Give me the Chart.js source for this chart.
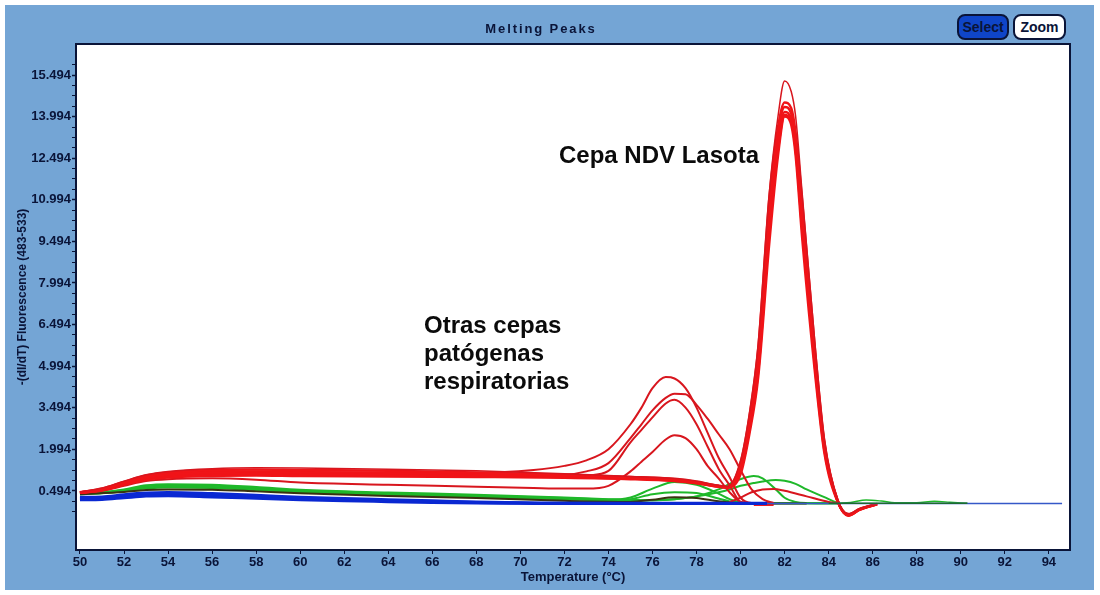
<!DOCTYPE html>
<html>
<head>
<meta charset="utf-8">
<title>Melting Peaks</title>
<script src="https://cdn.jsdelivr.net/npm/chart.js@4"></script>
<style>
html, body { margin: 0; padding: 0; background: #fff; }
#wrap { position: relative; width: 1100px; height: 595px; overflow: hidden; font-family: "Liberation Sans", Arial, sans-serif; }
#myChart { position: absolute; left: 0; top: 0; }
.note { position: absolute; font-weight: bold; font-size: 24px; color: #0b0b0b; line-height: 28px; white-space: nowrap; transform-origin: left top; }
#peakTitle { position: absolute; left: 441px; width: 200px; top: 21px; text-align: center; font-weight: bold; font-size: 13px; letter-spacing: 1.9px; color: #0a1438; }
.btn { position: absolute; top: 14px; height: 22px; line-height: 22px; border: 2px solid #0a1438; border-radius: 8px; text-align: center; font-weight: bold; font-size: 14px; color: #0a1438; box-sizing: content-box; }
#selectBtn { left: 957px; width: 48px; background: #0f45c8; }
#zoomBtn { left: 1013px; width: 49px; background: #fff; }
</style>
</head>
<body>
<div id="wrap">
  <canvas id="myChart" width="1100" height="595"></canvas>
  <div id="peakTitle">Melting Peaks</div>
  <div class="btn" id="selectBtn">Select</div>
  <div class="btn" id="zoomBtn">Zoom</div>
  <div class="note" style="left:559px;top:141px">Cepa NDV Lasota</div>
  <div class="note" style="left:424px;top:311px">Otras cepas<br>patógenas<br>respiratorias</div>
</div>
<script>
const xTickLabels = [50,52,54,56,58,60,62,64,66,68,70,72,74,76,78,80,82,84,86,88,90,92,94];
const yTickLabels = ['15.494','13.994','12.494','10.994','9.494','7.994','6.494','4.994','3.494','1.994','0.494'];

// main NDV Lasota peak
const lasotaTemps = [50,51,52,53,54,56,58,60,64,68,72,75,77,78,79,79.4,80,80.4,80.8,81.3,81.7,82,82.3,82.5,82.8,83.4,83.8,84.4,84.9,85.4,86.2];
const lasota1 = [.46,.6,.85,1.08,1.2,1.3,1.33,1.32,1.28,1.22,1.12,1.02,.95,.85,.7,.66,1.6,3.3,5.8,11.2,14,15.28,14.9,14,11.2,5.6,2.4,.2,-.32,-.14,.03];
const lasota2 = [.45,.58,.82,1.05,1.16,1.25,1.27,1.25,1.22,1.16,1.08,1,.92,.82,.68,.64,1.5,3.15,5.6,11,13.6,14.5,14.3,13.4,10.9,5.4,2.3,.17,-.36,-.16,.03];
const lasota3 = [.44,.55,.78,1,1.1,1.18,1.2,1.17,1.15,1.12,1.05,.98,.9,.8,.67,.63,1.4,3,5.3,10.6,13.4,14.34,14.1,13.2,10.5,5.2,2.2,.16,-.36,-.17,.02];
const lasota4 = [.44,.54,.76,.97,1.06,1.13,1.14,1.12,1.1,1.08,1.03,.96,.88,.79,.66,.62,1.3,2.85,5,10.2,13.1,14.16,13.9,13,10.2,5,2.1,.15,-.38,-.18,.02];
const lasota5 = [.43,.53,.74,.94,1.03,1.09,1.1,1.08,1.06,1.04,1,.94,.86,.78,.65,.62,1.2,2.7,4.8,9.8,12.8,14.05,13.8,12.8,9.9,4.8,2,.14,-.38,-.18,.02];
const lasota6 = [.43,.52,.72,.9,.98,1.04,1.05,1.03,1.02,1,.97,.92,.85,.77,.65,.61,1.1,2.55,4.6,9.4,12.6,14,13.7,12.6,9.6,4.6,1.9,.12,-.4,-.19,.01];

// smaller red peaks around 77 C
const otrasTemps = [50,51,52,53,54,56,58,60,64,68,70.6,72,73,74,75,75.5,76,76.6,77,77.5,78,78.5,79,79.5,80,80.5,81,81.5];
const otras1 = [.44,.55,.8,1,1.1,1.2,1.2,1.18,1.15,1.15,1.25,1.4,1.6,2,2.9,3.5,4.2,4.6,4.55,4.2,3.5,2.6,1.7,1,.25,.06,.05,.05];
const otras2 = [.43,.53,.76,.98,1.06,1.14,1.14,1.12,1.1,1.08,1.06,1.08,1.2,1.5,2.4,2.9,3.4,3.85,4,3.98,3.6,3.1,2.55,2,1.25,.55,.2,.06];
const otras3 = [.43,.52,.74,.95,1.02,1.08,1.08,1.06,1.04,1.02,1,1,1.05,1.22,2.25,2.7,3.15,3.65,3.78,3.5,2.9,2.1,1.3,.7,.1,.05,.05,.05];
const otras4 = [.42,.5,.68,.85,.92,.95,.9,.8,.72,.65,.6,.58,.58,.68,1.2,1.55,1.9,2.35,2.5,2.4,2,1.4,.95,.45,.1,.05,.05,.05];

const smallRedTemps = [79.5,80,80.5,81,81.5,82,83,84,84.5];
const smallRed = [.1,.25,.45,.55,.57,.5,.3,.1,.05];
const redBaseTemps = [80.6,81.5];
const redBase = [-.01,-.01];

const greenTemps = [50,51,52,53,54,56,58,60,64,68,72,74,75,76,77,78,79,79.5,80,80.6,81,81.6,82,82.5,83,84,84.4];
const green1 = [.4,.45,.55,.7,.74,.72,.64,.54,.44,.36,.26,.2,.18,.16,.2,.3,.55,.75,.92,1.03,.95,.55,.25,.1,.06,.05,.05];
const green2 = [.4,.44,.53,.66,.7,.68,.61,.51,.41,.33,.24,.18,.16,.16,.2,.3,.45,.55,.68,.78,.84,.89,.86,.75,.55,.2,.06];
const green3 = [.38,.42,.5,.62,.66,.64,.57,.48,.38,.3,.22,.18,.26,.58,.82,.72,.4,.2,.08,.05,.05,.05,.05,.05,.05,.05,.05];
const green4 = [.38,.41,.48,.58,.62,.6,.53,.45,.36,.28,.2,.15,.2,.38,.45,.42,.22,.12,.07,.05,.05,.05,.05,.05,.05,.05,.05];
const greenTailTemps = [84.4,85,85.7,86.4,87,88,88.8,89.5,90.3];
const greenTail = [.05,.08,.17,.13,.07,.07,.12,.09,.05];

const darkTemps = [50,52,53,54,56,58,60,64,68,72,75,76,77,78,79,80,81,83];
const dark = [.38,.46,.53,.55,.54,.48,.41,.31,.24,.14,.1,.18,.27,.24,.12,.05,.04,.04];
const darkTailTemps = [84,86,88,90.3];
const darkTail = [.05,.05,.05,.05];

const blueTemps = [50,51,52,53,54,56,58,60,62,64,66,68,70,72,76,80,81.2];
const blue1 = [.27,.28,.36,.42,.44,.4,.34,.27,.22,.18,.14,.1,.07,.05,.05,.05,.05];
const blue2 = [.22,.23,.3,.36,.38,.34,.28,.22,.18,.14,.11,.08,.06,.05,.04,.04,.04];
const blue3 = [.18,.19,.25,.31,.32,.28,.23,.18,.14,.11,.08,.06,.05,.04,.04,.04,.04];
const baseTemps = [70,80,86,90,94.6];
const baseLine = [.06,.04,.04,.04,.04];

function pts(temps, vals) {
    return temps.map((t, i) => ({ x: t, y: vals[i] }));
}
function line(temps, vals, color, width) {
    return {
        data: pts(temps, vals),
        borderColor: color,
        borderWidth: width,
        pointRadius: 0,
        cubicInterpolationMode: 'monotone',
        fill: false
    };
}

const RED = '#f01418', THIN = '#d8161e', GREEN = '#1fb82a', BLUE = '#0a28d2';
// first dataset is painted last
const datasets = [
    line(darkTailTemps, darkTail, '#1c6a30', 1.5),
    line(blueTemps, blue1, BLUE, 3),
    line(blueTemps, blue2, BLUE, 3),
    line(blueTemps, blue3, BLUE, 3),
    line(baseTemps, baseLine, '#3558c8', 1.5),
    line(lasotaTemps, lasota1, THIN, 1.5),
    line(lasotaTemps, lasota2, RED, 2.5),
    line(lasotaTemps, lasota3, RED, 2.5),
    line(lasotaTemps, lasota4, RED, 2.5),
    line(lasotaTemps, lasota5, RED, 2.5),
    line(lasotaTemps, lasota6, RED, 2.5),
    line(otrasTemps, otras1, THIN, 2),
    line(otrasTemps, otras2, THIN, 2),
    line(otrasTemps, otras3, THIN, 2),
    line(otrasTemps, otras4, THIN, 2),
    line(smallRedTemps, smallRed, THIN, 2),
    line(redBaseTemps, redBase, RED, 2),
    line(darkTemps, dark, '#3a3210', 2),
    line(greenTemps, green1, GREEN, 2),
    line(greenTemps, green2, GREEN, 2),
    line(greenTemps, green3, GREEN, 2),
    line(greenTemps, green4, GREEN, 2),
    line(greenTailTemps, greenTail, GREEN, 1.5)
];

const AXIS = '#0a1438';

// blue panel, white plot and closed frame
const panelPlugin = {
    id: 'panel',
    beforeDraw(chart) {
        const c = chart.ctx, a = chart.chartArea;
        c.save();
        c.fillStyle = '#74a5d5';
        c.fillRect(5, 5, 1089, 585);
        c.fillStyle = '#fff';
        c.fillRect(a.left, a.top, a.right - a.left, a.bottom - a.top);
        c.restore();
    },
    afterDraw(chart) {
        const c = chart.ctx, a = chart.chartArea;
        c.save();
        c.strokeStyle = AXIS;
        c.lineWidth = 2;
        c.strokeRect(a.left, a.top, a.right - a.left, a.bottom - a.top);
        c.restore();
    }
};

new Chart(document.getElementById('myChart'), {
    type: 'line',
    data: { datasets: datasets },
    plugins: [panelPlugin],
    options: {
        responsive: false,
        animation: false,
        layout: { padding: { left: 15, top: 44, right: 30, bottom: 0 } },
        plugins: { legend: { display: false }, title: { display: false }, tooltip: { enabled: false } },
        scales: {
            x: {
                type: 'linear',
                min: 49.82,
                max: 94.96,
                afterBuildTicks(scale) {
                    scale.ticks = xTickLabels.map(v => ({ value: v }));
                },
                afterFit(scale) { scale.height = 45; },
                border: { color: AXIS, width: 2 },
                grid: { drawOnChartArea: false, color: AXIS, tickLength: 4 },
                ticks: {
                    autoSkip: false, maxRotation: 0, padding: 1, color: AXIS,
                    font: { family: 'Liberation Sans', size: 13, weight: 'bold' },
                    callback: v => String(v)
                },
                title: {
                    display: true, text: 'Temperature (°C)', color: AXIS, padding: { top: 0, bottom: 10 },
                    font: { family: 'Liberation Sans', size: 13, weight: 'bold' }
                }
            },
            y: {
                min: -1.634,
                max: 16.612,
                afterBuildTicks(scale) {
                    const list = [];
                    yTickLabels.forEach(l => {
                        const v = parseFloat(l);
                        list.push({ value: v });
                        if (v < 15) [1, 2, 3].forEach(k => list.push({ value: v + k * 0.375 }));
                    });
                    list.push({ value: 15.494 + 0.375 }, { value: 0.119 }, { value: -0.256 });
                    scale.ticks = list;
                },
                afterFit(scale) { scale.width = 61; },
                border: { color: AXIS, width: 2 },
                grid: {
                    drawOnChartArea: false, tickLength: 4, color: AXIS,
                    tickWidth: ctx => yTickLabels.includes(ctx.tick.value.toFixed(3)) ? 1.5 : 1
                },
                ticks: {
                    autoSkip: false, padding: 1, color: AXIS,
                    font: { family: 'Liberation Sans', size: 13, weight: 'bold' },
                    callback: v => yTickLabels.includes(v.toFixed(3)) ? v.toFixed(3) : ''
                },
                title: {
                    display: true, text: '-(dI/dT) Fluorescence (483-533)', color: AXIS, padding: { top: 0, bottom: 0 },
                    font: { family: 'Liberation Sans', size: 12, weight: 'bold' }
                }
            }
        }
    }
});
</script>
</body>
</html>
